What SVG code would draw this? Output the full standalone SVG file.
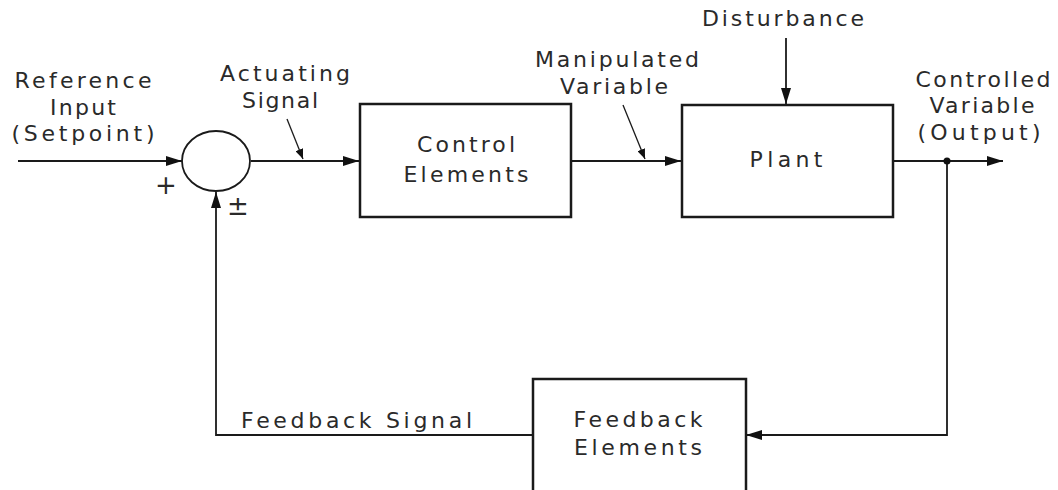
<svg xmlns="http://www.w3.org/2000/svg" width="1058" height="490" viewBox="0 0 1058 490">
  <defs>
    <style>
      text { font-family: "DejaVu Sans", "Liberation Sans", sans-serif; font-size: 22px; fill: #2a2a2a; }
      .c { text-anchor: middle; }
      .sign { font-size: 26px; }
      .box { fill: #ffffff; stroke: #1a1a1a; stroke-width: 2.5; }
      .wire { fill: none; stroke: #1a1a1a; stroke-width: 1.8; }
      .lead { fill: none; stroke: #1a1a1a; stroke-width: 1.3; }
    </style>
    <marker id="arrow" viewBox="0 0 16 10" refX="16" refY="5" markerWidth="16" markerHeight="10" markerUnits="userSpaceOnUse" orient="auto">
      <path d="M0,0 L16,5 L0,10 Z" fill="#111"/>
    </marker>
    <marker id="tick" viewBox="0 0 10 8" refX="10" refY="4" markerWidth="10" markerHeight="8" markerUnits="userSpaceOnUse" orient="auto">
      <path d="M0,0 L10,4 L0,8 Z" fill="#111"/>
    </marker>
  </defs>

  <rect width="1058" height="490" fill="#ffffff"/>

  <!-- connectors -->
  <g id="connectors">
    <line class="wire" x1="18" y1="161" x2="182" y2="161" marker-end="url(#arrow)"/>
    <line class="wire" x1="251" y1="161" x2="359" y2="161" marker-end="url(#arrow)"/>
    <line class="wire" x1="571" y1="161" x2="681" y2="161" marker-end="url(#arrow)"/>
    <line class="wire" x1="786" y1="38" x2="786" y2="104" marker-end="url(#arrow)"/>
    <line class="wire" x1="893" y1="161" x2="1003" y2="161" marker-end="url(#arrow)"/>
    <polyline class="wire" points="947,161 947,435 746,435" marker-end="url(#arrow)"/>
    <polyline class="wire" points="533,435 216,435 216,192" marker-end="url(#arrow)"/>
    <circle cx="947" cy="161" r="3.5" fill="#111"/>
    <!-- label leaders -->
    <line class="lead" x1="287" y1="119" x2="303" y2="159" marker-end="url(#tick)"/>
    <line class="lead" x1="623" y1="105" x2="645" y2="159" marker-end="url(#tick)"/>
  </g>

  <!-- summing junction -->
  <g id="summer">
    <ellipse cx="216" cy="161" rx="34" ry="30" fill="#ffffff" stroke="#1a1a1a" stroke-width="1.8"/>
    <text class="c sign" x="166" y="194">+</text>
    <text class="c sign" x="238" y="215">±</text>
  </g>

  <g id="control-elements">
    <rect class="box" x="360" y="104" width="211" height="113"/>
    <text class="c" x="466" y="152" textLength="98" lengthAdjust="spacing">Control</text>
    <text class="c" x="466" y="182" textLength="125" lengthAdjust="spacing">Elements</text>
  </g>

  <g id="plant">
    <rect class="box" x="682" y="105" width="211" height="112"/>
    <text class="c" x="786" y="167" textLength="73" lengthAdjust="spacing">Plant</text>
  </g>

  <g id="feedback-elements">
    <rect class="box" x="533" y="379" width="213" height="118" stroke-width="2"/>
    <text class="c" x="638" y="427" textLength="129" lengthAdjust="spacing">Feedback</text>
    <text class="c" x="638" y="455" textLength="128" lengthAdjust="spacing">Elements</text>
  </g>

  <!-- signal labels -->
  <g id="labels">
    <text class="c" x="83" y="88" textLength="137" lengthAdjust="spacing">Reference</text>
    <text class="c" x="83" y="115" textLength="66" lengthAdjust="spacing">Input</text>
    <text class="c" x="83" y="141" textLength="143" lengthAdjust="spacing">(Setpoint)</text>
    <text class="c" x="285" y="81" textLength="130" lengthAdjust="spacing">Actuating</text>
    <text class="c" x="280" y="108" textLength="76" lengthAdjust="spacing">Signal</text>
    <text class="c" x="617" y="67" textLength="164" lengthAdjust="spacing">Manipulated</text>
    <text class="c" x="614" y="94" textLength="108" lengthAdjust="spacing">Variable</text>
    <text class="c" x="783" y="26" textLength="162" lengthAdjust="spacing">Disturbance</text>
    <text class="c" x="983" y="87" textLength="135" lengthAdjust="spacing">Controlled</text>
    <text class="c" x="982" y="113" textLength="105" lengthAdjust="spacing">Variable</text>
    <text class="c" x="979" y="140" textLength="123" lengthAdjust="spacing">(Output)</text>
    <text x="241" y="428" textLength="231" lengthAdjust="spacing">Feedback  Signal</text>
  </g>
</svg>
